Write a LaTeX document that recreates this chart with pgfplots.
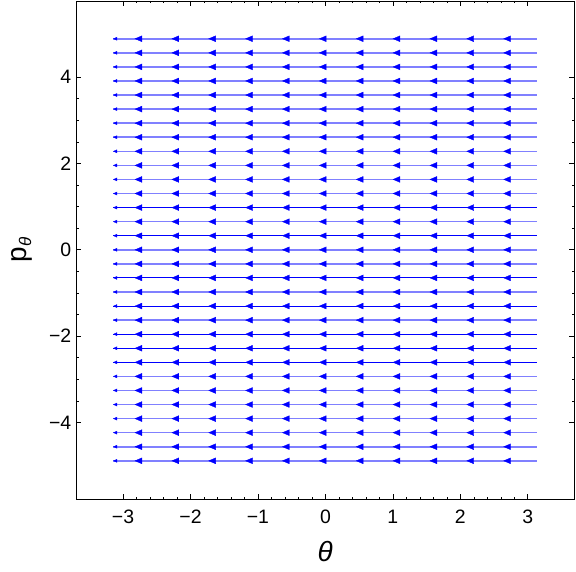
\documentclass[border=0pt]{standalone}
\usepackage{fontspec}
\setmainfont{Liberation Sans}
\usepackage{pgfplots}
\pgfplotsset{compat=1.18}
\usepackage{pgfplotstable}

\definecolor{streamlight}{RGB}{128,128,255}
\definecolor{streamdark}{RGB}{0,0,255}

% arrow head positions (mark centres) along each stream line
\pgfplotstableread{
x y
-2.755 0
-2.208 0
-1.662 0
-1.115 0
-0.569 0
-0.022 0
0.525 0
1.071 0
1.618 0
2.164 0
2.711 0
}\heads

\begin{document}
\begin{tikzpicture}
\begin{axis}[
scale only axis,width=497.5bp,height=498bp,
xmin=-3.69,xmax=3.685,ymin=-5.77,ymax=5.76,
xtick={-3,-2,-1,0,1,2,3},
xticklabels={−3,−2,−1,0,1,2,3},
ytick={-4,-2,0,2,4},
yticklabels={−4,−2,0,2,4},
minor x tick num=4,minor y tick num=3,
tick align=inside,
major tick length=5bp,minor tick length=2.5bp,
axis line style={line width=0.8bp},
every tick/.style={black,line width=0.6bp},
tick label style={font=\fontsize{19.5}{22}\selectfont},
xticklabel style={inner sep=0pt,yshift=-11bp},
yticklabel style={inner sep=0pt,xshift=-5bp},
xlabel={\itshape θ},
ylabel={p\raisebox{-0.3ex}{\fontsize{17}{17}\selectfont\itshape θ}},
label style={font=\fontsize{28}{30}\selectfont},
xlabel style={at={(axis description cs:0.5,-0.1064)},anchor=center},
ylabel style={at={(axis description cs:-0.1095,0.5)},anchor=center},
]
% light stream lines
\pgfplotsinvokeforeach{4.886,4.560,4.234,3.909,3.583,3.257,2.931,2.606,2.280,1.954,1.629,1.303,0.651,0,-0.326,-0.977,-1.629,-2.931,-3.257,-3.583,-3.909,-4.234,-4.560,-4.886}{
\addplot[draw=streamlight,solid,line width=1.6bp,forget plot] coordinates {(-3.1416,#1)(3.1416,#1)};
}
% dark stream lines
\pgfplotsinvokeforeach{0.977,0.326,-0.651,-1.303,-1.954,-2.280,-2.606}{
\addplot[draw=streamdark,solid,line width=1.1bp,forget plot] coordinates {(-3.1416,#1)(3.1416,#1)};
}
% arrow heads
\pgfplotsinvokeforeach{4.886,4.560,4.234,3.909,3.583,3.257,2.931,2.606,2.280,1.954,1.629,1.303,0.977,0.651,0.326,0,-0.326,-0.651,-0.977,-1.303,-1.629,-1.954,-2.280,-2.606,-2.931,-3.257,-3.583,-3.909,-4.234,-4.560,-4.886}{
\addplot[only marks,mark=triangle*,mark size=3.4bp,
  mark options={draw=streamdark,fill=streamdark,line width=0.3bp,rotate=90,yscale=1.35},forget plot]
  table[x=x,y expr=#1] {\heads};
\addplot[only marks,mark=triangle*,mark size=1.8bp,
  mark options={draw=streamdark,fill=streamdark,line width=0.3bp,rotate=90,yscale=1.3},forget plot]
  coordinates {(-3.107,#1)};
}
\end{axis}
\path ([shift={(-76.5bp,-73bp)}]current axis.south west) rectangle ([shift={(2bp,1bp)}]current axis.north east);
\end{tikzpicture}
\end{document}
